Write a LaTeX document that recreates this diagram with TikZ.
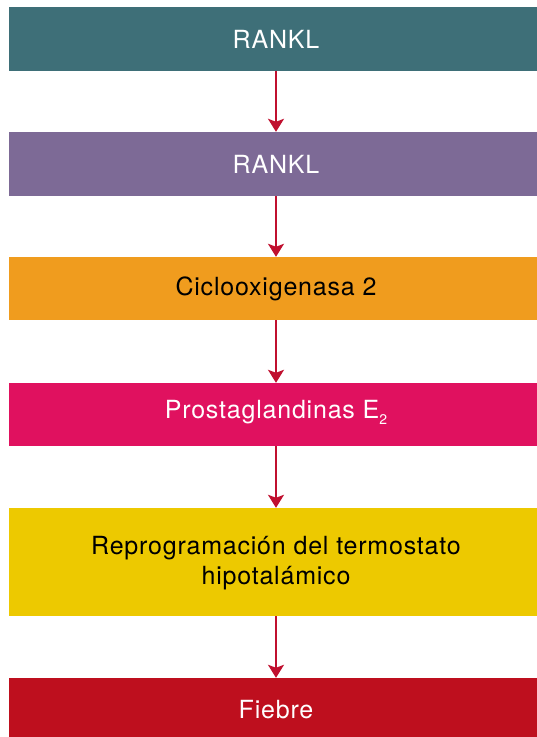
\documentclass[tikz,border=0pt]{standalone}
\usepackage{fontspec}
\setmainfont{TeX Gyre Heros}[LetterSpace=3.2]
\usetikzlibrary{arrows.meta}
\definecolor{cteal}{HTML}{3E6F78}
\definecolor{cpurple}{HTML}{7D6A96}
\definecolor{corange}{HTML}{F09C1E}
\definecolor{cmagenta}{HTML}{E0115F}
\definecolor{cyellow}{HTML}{EDC900}
\definecolor{cred}{HTML}{BE0F1E}
\definecolor{carrow}{HTML}{C0102F}
\begin{document}
\begin{tikzpicture}[x=1pt,y=1pt,
  box/.style={rectangle, inner sep=0pt, minimum width=528pt, draw=none},
  lbl/.style={inner sep=0pt, align=center, font=\fontsize{25}{30}\selectfont},
  flow/.style={draw=carrow, line width=2pt, -{Stealth[length=13pt, width=16pt, inset=3pt]}}]
\useasboundingbox (0,0) rectangle (537,737);
\fill[white] (0,0) rectangle (537,737);
% boxes (image y measured from top)
\node[box, fill=cteal,    minimum height=64pt]  (b1) at (273,737-39) {};
\node[box, fill=cpurple,  minimum height=64pt]  (b2) at (273,737-164) {};
\node[box, fill=corange,  minimum height=63pt]  (b3) at (273,737-288.5) {};
\node[box, fill=cmagenta, minimum height=63pt]  (b4) at (273,737-414.5) {};
\node[box, fill=cyellow,  minimum height=108pt] (b5) at (273,737-562) {};
\node[box, fill=cred,     minimum height=59pt]  (b6) at (273,737-707.5) {};
% labels
\node[lbl, text=white] (t1) at (276,737-39) {RANKL};
\node[lbl, text=white] (t2) at (276,737-164) {RANKL};
\node[lbl, text=black] (t3) at (276,737-289) {Ciclooxigenasa 2};
\node[lbl, text=white] (t4) at (276,737-412) {Prostaglandinas E\raisebox{-6pt}{\fontsize{14}{14}\selectfont 2}};
\node[lbl, text=black] (t5) at (276,737-563) {Reprogramación del termostato\\hipotalámico};
\node[lbl, text=white] (t6) at (276,737-710) {Fiebre};
% arrows
\coordinate (ax) at (276,0);
\draw[flow] (b1.south -| ax) -- (b2.north -| ax);
\draw[flow] (b2.south -| ax) -- (b3.north -| ax);
\draw[flow] (b3.south -| ax) -- (b4.north -| ax);
\draw[flow] (b4.south -| ax) -- (b5.north -| ax);
\draw[flow] (b5.south -| ax) -- (b6.north -| ax);
\end{tikzpicture}
\end{document}
